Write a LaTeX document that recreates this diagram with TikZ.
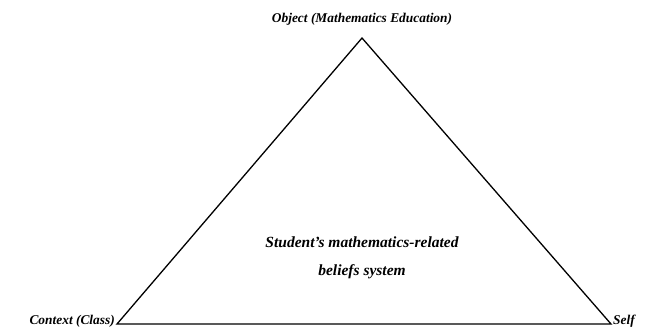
\documentclass[tikz,border=0pt]{standalone}
\usepackage{fontspec}
\setmainfont{Liberation Serif}
\begin{document}
\begin{tikzpicture}[x=1pt,y=-1pt,
  lbl/.style={font=\fontsize{13.4}{15}\selectfont\bfseries\itshape, inner sep=0pt},
  mid/.style={font=\fontsize{15.5}{18}\selectfont\bfseries\itshape, inner sep=0pt},
  edge/.style={draw=black, line width=1.3pt, line join=miter}]
\useasboundingbox (0,0) rectangle (647,327);
\coordinate (A) at (362,38);
\coordinate (B) at (117,324);
\coordinate (C) at (611,324);
\draw[edge] (A) -- (B) -- (C) -- cycle;
\node[lbl, anchor=base] (top) at (362,22) {Object (Mathematics Education)};
\node[lbl, anchor=base east] (left) at (115,324) {Context (Class)};
\node[lbl, anchor=base west] (right) at (613,324) {Self};
\node[mid, anchor=base] (c1) at (362,247) {Student's mathematics-related};
\node[mid, anchor=base] (c2) at (362,275) {beliefs system};
\end{tikzpicture}
\end{document}
